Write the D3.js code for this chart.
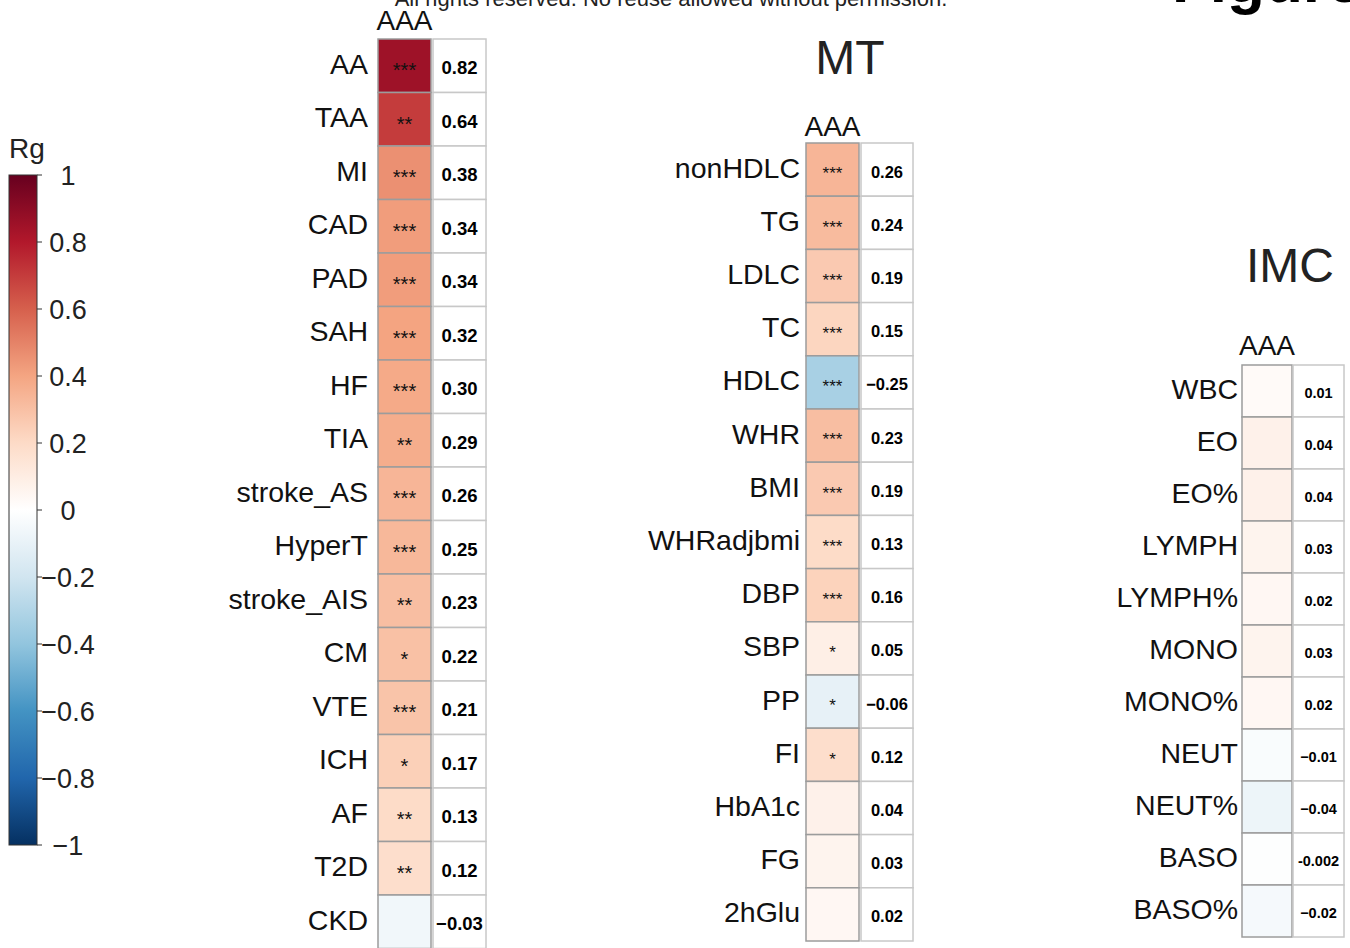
<!DOCTYPE html>
<html>
<head>
<meta charset="utf-8">
<script src="https://cdn.jsdelivr.net/npm/d3@7"></script>
<style>
  html, body { margin: 0; padding: 0; background: #fff; }
  svg { display: block; font-family: Arial, "Liberation Sans", Helvetica, sans-serif; }
</style>
</head>
<body>
<svg id="chart" width="1350" height="948"></svg>
<script>
// Genetic correlation (Rg) of AAA with three trait groups
const cvdTraits = ["AA","TAA","MI","CAD","PAD","SAH","HF","TIA","stroke_AS","HyperT","stroke_AIS","CM","VTE","ICH","AF","T2D","CKD"];
const cvdRg     = [0.82,0.64,0.38,0.34,0.34,0.32,0.30,0.29,0.26,0.25,0.23,0.22,0.21,0.17,0.13,0.12,-0.03];
const cvdLabels = ["0.82","0.64","0.38","0.34","0.34","0.32","0.30","0.29","0.26","0.25","0.23","0.22","0.21","0.17","0.13","0.12","\u22120.03"];
const cvdSig    = ["***","**","***","***","***","***","***","**","***","***","**","*","***","*","**","**",""];

const mtTraits = ["nonHDLC","TG","LDLC","TC","HDLC","WHR","BMI","WHRadjbmi","DBP","SBP","PP","FI","HbA1c","FG","2hGlu"];
const mtRg     = [0.26,0.24,0.19,0.15,-0.25,0.23,0.19,0.13,0.16,0.05,-0.06,0.12,0.04,0.03,0.02];
const mtLabels = ["0.26","0.24","0.19","0.15","\u22120.25","0.23","0.19","0.13","0.16","0.05","\u22120.06","0.12","0.04","0.03","0.02"];
const mtSig    = ["***","***","***","***","***","***","***","***","***","*","*","*","","",""];

const imcTraits = ["WBC","EO","EO%","LYMPH","LYMPH%","MONO","MONO%","NEUT","NEUT%","BASO","BASO%"];
const imcRg     = [0.01,0.04,0.04,0.03,0.02,0.03,0.02,-0.01,-0.04,-0.002,-0.02];
const imcLabels = ["0.01","0.04","0.04","0.03","0.02","0.03","0.02","\u22120.01","\u22120.04","-0.002","\u22120.02"];
const imcSig    = ["","","","","","","","","","",""];

const legendTicks = [1,0.8,0.6,0.4,0.2,0,-0.2,-0.4,-0.6,-0.8,-1];
const legendTickLabels = ["1","0.8","0.6","0.4","0.2","0","\u22120.2","\u22120.4","\u22120.6","\u22120.8","\u22121"];

// Diverging red-blue palette
const paletteStops  = [-1,-0.8,-0.6,-0.4,-0.2,0,0.2,0.4,0.6,0.8,1];
const paletteColors = ["#053061","#2166AC","#4393C3","#92C5DE","#D1E5F0","#FFFFFF","#FDDBC7","#F4A582","#D6604D","#B2182B","#67001F"];
const color = d3.scaleLinear().domain(paletteStops).range(paletteColors).interpolate(d3.interpolateRgb).clamp(true);
// cells use a slightly stretched intensity so weak correlations stay visible
const intensity = d3.scalePow().exponent(0.8).domain([-1, 1]).range([-1, 1]);
const cellColor = v => color(Math.sign(v) * intensity(Math.abs(v)));

const svg = d3.select("#chart");

// header text, partly above the top edge
svg.append("text").attr("x", 671).attr("y", 6).attr("text-anchor", "middle")
  .attr("font-size", 22).attr("fill", "#222")
  .text("All rights reserved. No reuse allowed without permission.");
svg.append("text").attr("x", 1172).attr("y", 2)
  .attr("font-size", 62).attr("font-weight", "bold").attr("fill", "#000")
  .text("Figure");

// ---- colour legend ----
const legend = svg.append("g");
const ly = d3.scaleLinear().domain([-1, 1]).range([845, 175]);
const grad = svg.append("defs").append("linearGradient")
  .attr("id", "rgGrad").attr("x1", 0).attr("y1", 1).attr("x2", 0).attr("y2", 0);
paletteStops.forEach((s, i) => {
  grad.append("stop").attr("offset", (s + 1) / 2).attr("stop-color", paletteColors[i]);
});
legend.append("rect").attr("x", 9).attr("y", ly(1)).attr("width", 28).attr("height", ly(-1) - ly(1))
  .attr("fill", "url(#rgGrad)").attr("stroke", "#333").attr("stroke-width", 1);
legend.append("text").attr("x", 9).attr("y", 158).attr("font-size", 28).attr("fill", "#222").text("Rg");
legend.selectAll("line.tick").data(legendTicks).join("line")
  .attr("x1", 37).attr("x2", 42)
  .attr("y1", d => ly(d)).attr("y2", d => ly(d))
  .attr("stroke", "#333").attr("stroke-width", 1);
legend.selectAll("text.tl").data(legendTicks).join("text")
  .attr("class", "tl")
  .attr("x", 68).attr("y", d => ly(d) + 9.5)
  .attr("text-anchor", "middle").attr("font-size", 27).attr("fill", "#222")
  .text((d, i) => legendTickLabels[i]);

// ---- heatmap panels ----
function panel(opts) {
  const g = svg.append("g");
  const y = d3.scaleBand().domain(opts.traits).range([opts.top, opts.bottom]).padding(0);
  const h = y.bandwidth();
  const rows = opts.traits.map((t, i) => ({ t, v: opts.values[i], lab: opts.labels[i], sig: opts.sig[i] }));

  if (opts.title) {
    g.append("text").attr("x", opts.titleX).attr("y", opts.titleY)
      .attr("text-anchor", "middle").attr("font-size", 48).attr("fill", "#222").text(opts.title);
  }
  g.append("text").attr("x", opts.cellX + opts.cellW / 2).attr("y", opts.headY)
    .attr("text-anchor", "middle").attr("font-size", 28).attr("fill", "#111").text("AAA");

  g.selectAll("rect.cell").data(rows).join("rect")
    .attr("x", opts.cellX).attr("y", d => y(d.t))
    .attr("width", opts.cellW).attr("height", h)
    .attr("fill", d => cellColor(d.v)).attr("stroke", "#9c9c9c").attr("stroke-width", 1.5);

  g.selectAll("rect.box").data(rows).join("rect")
    .attr("x", opts.boxX).attr("y", d => y(d.t))
    .attr("width", opts.boxW).attr("height", h)
    .attr("fill", "#fff").attr("stroke", "#c8c8c8").attr("stroke-width", 1.5);

  g.selectAll("text.sig").data(rows).join("text")
    .attr("x", opts.cellX + opts.cellW / 2).attr("y", d => y(d.t) + h / 2 + opts.sigSize * 0.58)
    .attr("text-anchor", "middle").attr("font-size", opts.sigSize).attr("fill", "#111")
    .text(d => d.sig);

  g.selectAll("text.val").data(rows).join("text")
    .attr("x", opts.boxX + opts.boxW / 2).attr("y", d => y(d.t) + h / 2 + opts.valSize * 0.36 + 2)
    .attr("text-anchor", "middle").attr("font-size", opts.valSize).attr("font-weight", "bold").attr("fill", "#000")
    .text(d => d.lab);

  g.selectAll("text.row").data(rows).join("text")
    .attr("x", opts.labelX).attr("y", d => y(d.t) + h / 2 + 8)
    .attr("text-anchor", "end").attr("font-size", 28.5).attr("fill", "#111")
    .text(d => d.t);
}

panel({ traits: cvdTraits, values: cvdRg, labels: cvdLabels, sig: cvdSig,
  top: 39, bottom: 948.5, cellX: 378, cellW: 53, boxX: 433, boxW: 53,
  headY: 30, labelX: 368, valSize: 18.5, sigSize: 20 });

panel({ traits: mtTraits, values: mtRg, labels: mtLabels, sig: mtSig,
  title: "MT", titleX: 850, titleY: 74,
  top: 143, bottom: 941, cellX: 806, cellW: 53, boxX: 861, boxW: 52,
  headY: 136, labelX: 800, valSize: 16.5, sigSize: 17 });

panel({ traits: imcTraits, values: imcRg, labels: imcLabels, sig: imcSig,
  title: "IMC", titleX: 1290, titleY: 282,
  top: 365, bottom: 937, cellX: 1242, cellW: 50, boxX: 1293, boxW: 51,
  headY: 355, labelX: 1238, valSize: 14.5, sigSize: 14 });
</script>
</body>
</html>
